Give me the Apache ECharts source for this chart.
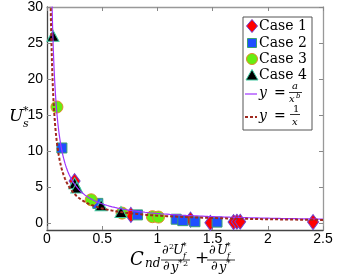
<!DOCTYPE html>
<html><head><meta charset="utf-8">
<script src="https://cdn.jsdelivr.net/npm/echarts@6/dist/echarts.min.js"></script>
<style>html,body{margin:0;padding:0;background:#fff}#c{width:357px;height:276px}</style>
</head><body><div id="c"></div>
<script>
// Data
const case1X = [0.25, 0.76, 1.30, 1.48, 1.69, 1.72, 1.75, 2.41];
const case1Y = [5.8, 1.1, 0.45, 0.0, 0.1, 0.15, 0.15, 0.1];
const case2X = [0.135, 0.46, 0.82, 1.17, 1.23, 1.34, 1.54];
const case2Y = [10.4, 2.7, 1.1, 0.5, 0.3, 0.15, 0.1];
const case3X = [0.09, 0.40, 0.68, 0.955, 1.01];
const case3Y = [16.1, 3.2, 1.35, 0.85, 0.8];
const case4X = [0.054, 0.25, 0.27, 0.49, 0.67];
const case4Y = [26.0, 5.5, 4.9, 2.45, 1.5];
const xTicks = [0, 0.5, 1, 1.5, 2, 2.5];
const yTicks = [0, 5, 10, 15, 20, 25, 30];
// fitted model y = a / x^b
const fitA = 1.3, fitB = 1.02;

const pairs = (xs, ys) => xs.map((x, i) => [x, ys[i]]);
const curveX = [];
for (let i = 0; i <= 400; i++) curveX.push(0.02 + i * (2.5 - 0.02) / 400);
const fitCurve = curveX.map(x => [x, fitA / Math.pow(x, fitB)]);
const invCurve = curveX.map(x => [x, 1 / x]);

const SERIF = '"DejaVu Serif", "Liberation Serif", serif';
function T(str, x, y, size, italic, extra) {
  return Object.assign({
    type: 'text', x: x, y: y, z: 100,
    style: { text: str, fill: '#000', font: (italic ? 'italic ' : '') + size + 'px ' + SERIF,
             textAlign: 'left', textVerticalAlign: 'middle' }
  }, extra || {});
}
function L(x1, y1, x2, y2, color, w, dash) {
  return { type: 'line', z: 100, shape: { x1, y1, x2, y2 },
           style: { stroke: color, lineWidth: w, lineDash: dash || null } };
}

const graphics = [
  // legend box
  { type: 'rect', z: 90, shape: { x: 243, y: 17, width: 69, height: 113 },
    style: { fill: '#fff', stroke: '#555', lineWidth: 1 } },
  { type: 'polygon', z: 100, shape: { points: [[252, 19.5], [257.5, 26], [252, 32.5], [246.5, 26]] },
    style: { fill: '#ff0000', stroke: '#7040d0', lineWidth: 1 } },
  T('Case 1', 259, 26, 14, false),
  { type: 'rect', z: 100, shape: { x: 247.5, y: 38.5, width: 9, height: 9 },
    style: { fill: '#1f4fff', stroke: '#3aa070', lineWidth: 1 } },
  T('Case 2', 259, 43, 14, false),
  { type: 'circle', z: 100, shape: { cx: 252, cy: 59, r: 5.5 },
    style: { fill: '#66ee11', stroke: '#e08a2a', lineWidth: 1 } },
  T('Case 3', 259, 59, 14, false),
  { type: 'polygon', z: 100, shape: { points: [[252, 69.5], [258, 80], [246, 80]] },
    style: { fill: '#000', stroke: '#40c8a0', lineWidth: 1 } },
  T('Case 4', 259, 75, 14, false),
  L(245, 94, 257, 94, '#a033ff', 1.2),
  T('y', 259, 93, 14, true),
  T('=', 274, 93, 14, false),
  T('a', 292, 86, 10, true),
  L(289, 92.5, 302, 92.5, '#000', 0.8),
  T('x', 289, 99, 10, true),
  T('b', 296, 96, 7, true),
  L(245, 117, 257, 117, '#a0281e', 2, [3, 2]),
  T('y', 259, 116, 14, true),
  T('=', 274, 116, 14, false),
  T('1', 293, 109, 10, false),
  L(290, 114.5, 300, 114.5, '#000', 0.8),
  T('x', 292, 122, 10, true),
  // y axis label U_s^*
  T('U', 9, 117, 17, true),
  T('*', 23, 111, 11, false),
  T('s', 23, 124, 11, true),
  // x axis label
  T('C', 130, 260, 18, true),
  T('nd', 145, 264, 12, true),
  T('\u2202', 162, 251, 13, false),
  T('2', 169, 247, 8, false),
  T('U', 173, 251, 13, true),
  T('*', 182, 247, 9, false),
  T('f', 183, 256, 8, true),
  L(161, 260, 190, 260, '#000', 0.8),
  T('\u2202', 163, 267, 13, false),
  T('y', 171, 268, 13, true),
  T('*', 178, 264, 9, false),
  T('2', 183, 264, 8, false),
  T('+', 195, 259, 17, false),
  T('\u2202', 209, 251, 13, false),
  T('U', 217, 251, 13, true),
  T('*', 226, 247, 9, false),
  T('f', 227, 256, 8, true),
  L(207, 260, 235, 260, '#000', 0.8),
  T('\u2202', 211, 267, 13, false),
  T('y', 219, 268, 13, true),
  T('*', 226, 264, 9, false)
];

const tickLab = { fontSize: 14, color: '#000', fontFamily: '"Liberation Sans", Arial, sans-serif' };
const chart = echarts.init(document.getElementById('c'));
chart.setOption({
  animation: false,
  grid: { left: 47, right: 34, top: 6, bottom: 46 },
  xAxis: [
    { type: 'value', min: 0, max: 2.5, interval: 0.5, position: 'bottom',
      axisLine: { show: true, onZero: false, lineStyle: { color: '#444', width: 1.3 } },
      axisTick: { show: true, inside: true, length: 4, lineStyle: { color: '#888' } },
      axisLabel: Object.assign({ margin: 2, formatter: v => String(v) }, tickLab),
      splitLine: { show: false } },
    { type: 'value', min: 0, max: 2.5, interval: 0.5, position: 'top',
      axisLine: { show: true, onZero: false, lineStyle: { color: '#999', width: 1.3 } },
      axisTick: { show: true, inside: true, length: 4, lineStyle: { color: '#888' } },
      axisLabel: { show: false }, splitLine: { show: false } }
  ],
  yAxis: [
    { type: 'value', min: -1, max: 30, position: 'left',
      axisLine: { show: true, onZero: false, lineStyle: { color: '#444', width: 1.3 } },
      axisTick: { show: true, inside: true, length: 4, customValues: yTicks, lineStyle: { color: '#888' } },
      axisLabel: Object.assign({ margin: 4, customValues: yTicks }, tickLab),
      splitLine: { show: false } },
    { type: 'value', min: -1, max: 30, position: 'right',
      axisLine: { show: true, onZero: false, lineStyle: { color: '#999', width: 1.3 } },
      axisTick: { show: true, inside: true, length: 4, customValues: yTicks, lineStyle: { color: '#888' } },
      axisLabel: { show: false }, splitLine: { show: false } }
  ],
  series: [
    { name: 'Case 1', type: 'scatter', symbol: 'diamond', symbolSize: [11, 15], z: 3,
      itemStyle: { color: '#ff0000', borderColor: '#7040d0', borderWidth: 1, opacity: 1 },
      data: pairs(case1X, case1Y) },
    { name: 'Case 2', type: 'scatter', symbol: 'rect', symbolSize: 10, z: 3,
      itemStyle: { color: '#1f4fff', borderColor: '#3aa070', borderWidth: 1, opacity: 1 },
      data: pairs(case2X, case2Y) },
    { name: 'Case 3', type: 'scatter', symbol: 'circle', symbolSize: 12, z: 3,
      itemStyle: { color: '#66ee11', borderColor: '#e08a2a', borderWidth: 1, opacity: 1 },
      data: pairs(case3X, case3Y) },
    { name: 'Case 4', type: 'scatter', symbol: 'triangle', symbolSize: [12, 11], z: 4,
      itemStyle: { color: '#000', borderColor: '#40c8a0', borderWidth: 1, opacity: 1 },
      data: pairs(case4X, case4Y) },
    { name: 'fit', type: 'line', showSymbol: false, clip: true, z: 5, smooth: false,
      lineStyle: { color: '#a033ff', width: 1.2 }, data: fitCurve },
    { name: 'inv', type: 'line', showSymbol: false, clip: true, z: 6, smooth: false,
      lineStyle: { color: '#a0281e', width: 2, type: [3, 2] }, data: invCurve }
  ],
  graphic: graphics
});
</script></body></html>
